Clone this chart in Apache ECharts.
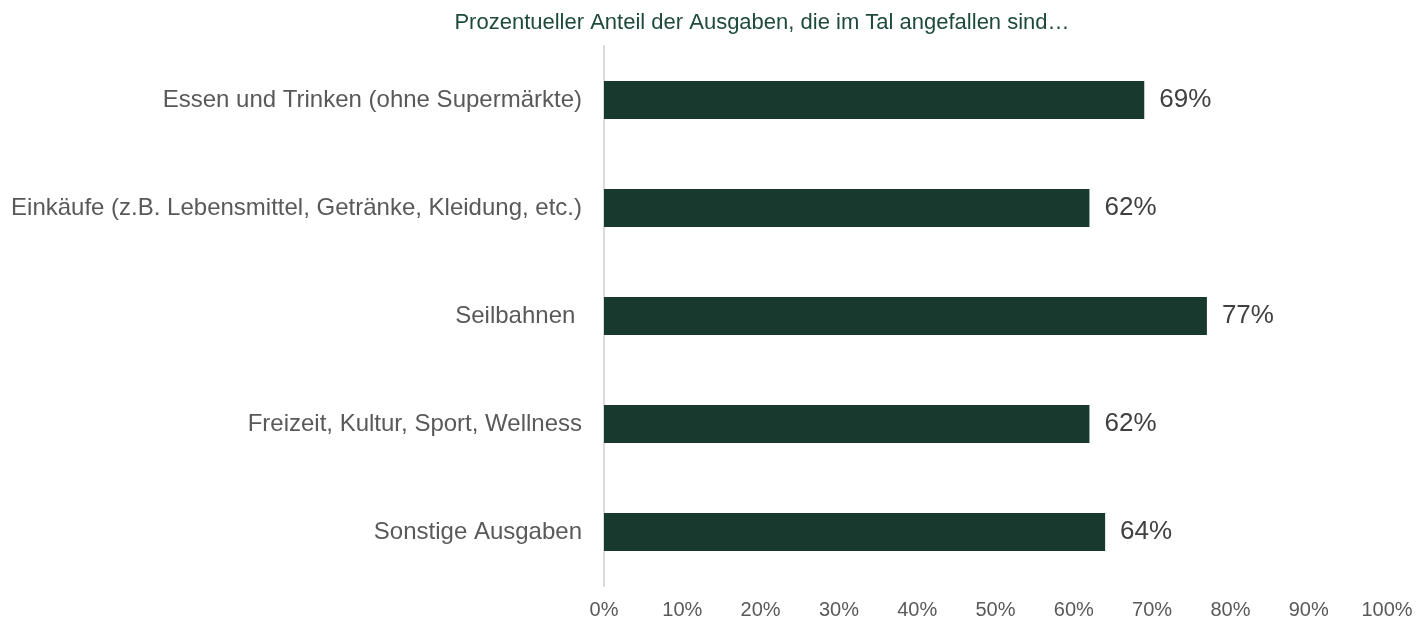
<!DOCTYPE html>
<html>
<head>
<meta charset="utf-8">
<script src="https://cdn.jsdelivr.net/npm/echarts@6/dist/echarts.min.js"></script>
<style>
  html, body { margin: 0; padding: 0; background: #fff; }
  #chart { width: 1420px; height: 623px; }
</style>
</head>
<body>
<div id="chart"></div>
<script>
const categories = [
  'Essen und Trinken (ohne Supermärkte)',
  'Einkäufe (z.B. Lebensmittel, Getränke, Kleidung, etc.)',
  'Seilbahnen ',
  'Freizeit, Kultur, Sport, Wellness',
  'Sonstige Ausgaben',
]
const values = [69, 62, 77, 62, 64]
const titleText = 'Prozentueller Anteil der Ausgaben, die im Tal angefallen sind…'

const chart = echarts.init(document.getElementById('chart'))

const option = {
  backgroundColor: '#fff',
  animation: false,
  title: {
    text: titleText,
    left: 757,
    textAlign: 'center',
    top: 7,
    textStyle: {
      color: '#1e4a3b',
      fontSize: 22,
      fontWeight: 'normal',
      fontFamily: 'Liberation Sans, Arial, sans-serif',
    },
  },
  grid: { left: 604, right: 33, top: 46, bottom: 37, containLabel: false },
  xAxis: {
    type: 'value',
    min: 0,
    max: 100,
    interval: 10,
    axisLine: { show: false },
    axisTick: { show: false },
    splitLine: { show: false },
    axisLabel: {
      formatter: '{value}%',
      color: '#595959',
      fontSize: 20,
      margin: 14,
      fontFamily: 'Liberation Sans, Arial, sans-serif',
    },
  },
  yAxis: {
    type: 'category',
    data: categories,
    inverse: true,
    axisLine: { show: true, lineStyle: { color: '#d9d9d9', width: 2 } },
    axisTick: { show: false },
    axisLabel: {
      color: '#595959',
      fontSize: 24,
      margin: 22,
      fontFamily: 'Liberation Sans, Arial, sans-serif',
    },
  },
  series: [
    {
      type: 'bar',
      data: values,
      barWidth: 38,
      itemStyle: { color: '#17392e' },
      label: {
        show: true,
        position: 'right',
        distance: 15,
        formatter: '{c}%',
        color: '#404040',
        fontSize: 26,
        fontFamily: 'Liberation Sans, Arial, sans-serif',
      },
    },
  ],
}

chart.setOption(option)
</script>
</body>
</html>
